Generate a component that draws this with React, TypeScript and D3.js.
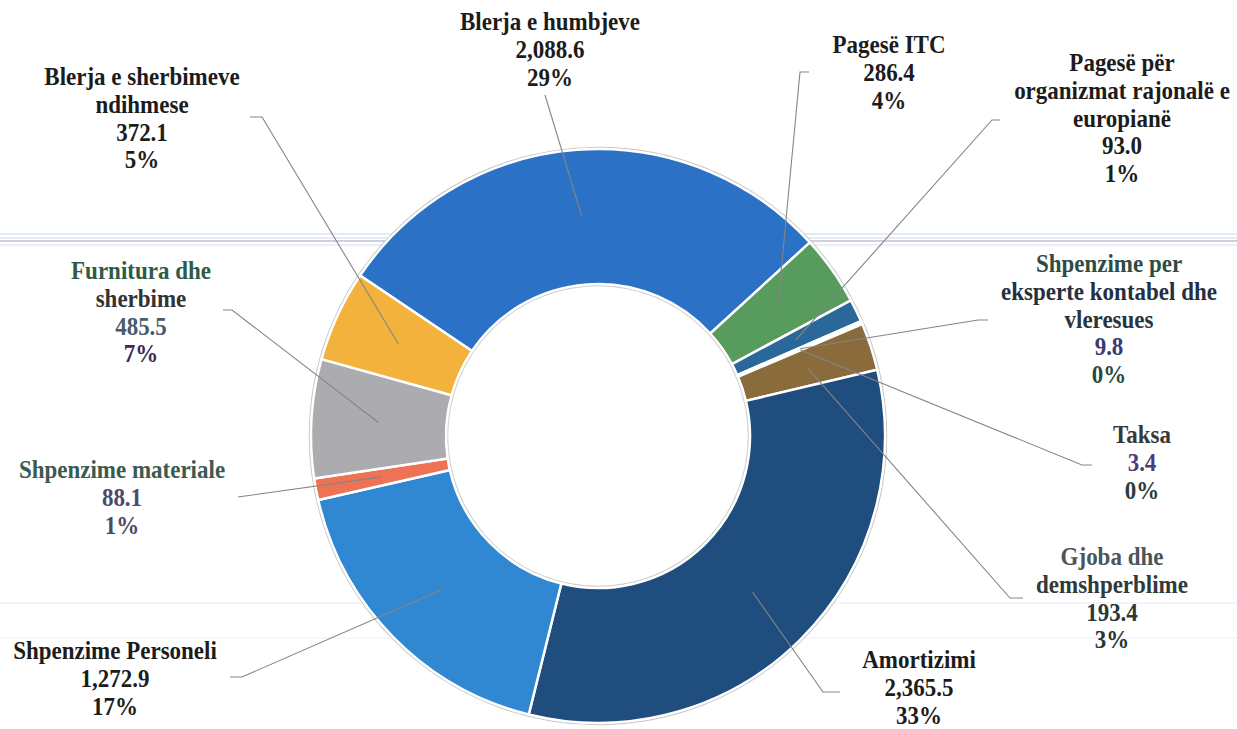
import React from "react";
import * as d3 from "d3";

const categories = [
  "Blerja e humbjeve",
  "Pagesë ITC",
  "Pagesë për organizmat rajonalë e europianë",
  "Shpenzime per eksperte kontabel dhe vleresues",
  "Taksa",
  "Gjoba dhe demshperblime",
  "Amortizimi",
  "Shpenzime Personeli",
  "Shpenzime materiale",
  "Furnitura dhe sherbime",
  "Blerja e sherbimeve ndihmese",
];
const values = [2088.6, 286.4, 93.0, 9.8, 3.4, 193.4, 2365.5, 1272.9, 88.1, 485.5, 372.1];
const valueLabels = ["2,088.6", "286.4", "93.0", "9.8", "3.4", "193.4", "2,365.5", "1,272.9", "88.1", "485.5", "372.1"];
const pctLabels = ["29%", "4%", "1%", "0%", "0%", "3%", "33%", "17%", "1%", "7%", "5%"];
const nameLines = [
  ["Blerja e humbjeve"],
  ["Pagesë ITC"],
  ["Pagesë për", "organizmat rajonalë e", "europianë"],
  ["Shpenzime per", "eksperte kontabel dhe", "vleresues"],
  ["Taksa"],
  ["Gjoba dhe", "demshperblime"],
  ["Amortizimi"],
  ["Shpenzime Personeli"],
  ["Shpenzime materiale"],
  ["Furnitura dhe", "sherbime"],
  ["Blerja e sherbimeve", "ndihmese"],
];

// styling / layout (not data)
const sliceColors = ["#2b72c6", "#579c5c", "#2a689a", "#b9b9b9", "#d0d0d0", "#8a6c3c", "#1f4d7d", "#3188d2", "#ee7355", "#ababb0", "#f2b23c"];
// label layout: center x, first baseline y, tick start x, tick end x, tick y
const labelLayout: [number, number, number, number, number][] = [
  [550, 30, 545, 545, 95],
  [889, 53, 809, 800, 72],
  [1122, 71, 1000, 992, 120],
  [1109, 272, 988, 978, 320],
  [1142, 443, 1092, 1082, 465],
  [1112, 565, 1023, 1010, 598],
  [919, 668, 840, 823, 692],
  [115, 659, 230, 242, 677],
  [122, 478, 238, 238, 497],
  [141, 279, 223, 232, 310],
  [142, 85, 250, 262, 117],
];
const lineColors: Record<number, string[]> = {
  3: ["#2f4c44", "#243040", "#2a3540", "#3a3a72", "#2c4a3c"],
  4: ["#383838", "#4a3d7a", "#2c3c38"],
  5: ["#4b5656", "#2f3a3a", "#2a3838", "#2a3434"],
  8: ["#3c5a50", "#4a4a72", "#4a4a62"],
  9: ["#2f5a48", "#333333", "#4a5a6a", "#3a2a5a"],
};

const W = 1237;
const H = 729;
const cx = 598;
const cy = 436;
const R = 287;
const r0 = 152;
const LH = 27.8;
const SY = 1.08;

export default function App() {
  const start = (-56 * Math.PI) / 180;
  const pie = d3
    .pie<number>()
    .sort(null)
    .value((d) => d)
    .startAngle(start)
    .endAngle(start + 2 * Math.PI);
  const arcs = pie(values);
  const arc = d3.arc<d3.PieArcDatum<number>>().innerRadius(r0).outerRadius(R);
  const mid = d3.arc<d3.PieArcDatum<number>>().innerRadius(220).outerRadius(220);

  const font = "'Liberation Serif', 'Times New Roman', serif";

  return (
    <svg width={W} height={H} style={{ position: "absolute", left: 0, top: 0, background: "#fff" }}>
      {/* scan artifacts */}
      <g opacity={0.55}>
        <line x1={0} x2={W} y1={234} y2={234} stroke="#b9d6e2" strokeWidth={1.5} />
        <line x1={0} x2={W} y1={238} y2={238} stroke="#c9cfe0" strokeWidth={1.5} />
        <line x1={0} x2={W} y1={241} y2={241} stroke="#a9a9c2" strokeWidth={2} />
        <line x1={0} x2={W} y1={245} y2={245} stroke="#d5d8e8" strokeWidth={1.5} />
        <line x1={0} x2={W} y1={603} y2={603} stroke="#dcd6f0" strokeWidth={1} />
        <line x1={0} x2={W} y1={638} y2={638} stroke="#e6e2f2" strokeWidth={1} />
      </g>
      <g transform={`translate(${cx},${cy})`}>
        <circle r={R + 1.5} fill="none" stroke="#c8c8c8" strokeWidth={1.5} />
        <circle r={r0 - 1.5} fill="none" stroke="#cfcfcf" strokeWidth={1.5} />
        {arcs.map((a, i) => (
          <path key={i} d={arc(a) || ""} fill={sliceColors[i]} stroke="#ffffff" strokeWidth={2.5} />
        ))}
      </g>
      {/* leader lines */}
      {arcs.map((a, i) => {
        const [mx, my] = mid.centroid(a);
        const [, , t0, t1, ty] = labelLayout[i];
        const d = `M${t0},${ty}L${t1},${ty}L${cx + mx},${cy + my}`;
        return <path key={i} d={d} fill="none" stroke="#858585" strokeWidth={1.1} />;
      })}
      {/* labels */}
      {categories.map((c, i) => {
        const [lx, ly] = labelLayout[i];
        const lines = [...nameLines[i], valueLabels[i], pctLabels[i]];
        const cols = lineColors[i];
        return (
          <g key={c}>
            {lines.map((t, j) => (
              <text
                key={j}
                transform={`translate(${lx},${ly + j * LH}) scale(1,${SY})`}
                textAnchor="middle"
                fontFamily={font}
                fontWeight="bold"
                fontSize={23}
                fill={cols ? cols[j] : "#1c1c1c"}
              >
                {t}
              </text>
            ))}
          </g>
        );
      })}
    </svg>
  );
}
